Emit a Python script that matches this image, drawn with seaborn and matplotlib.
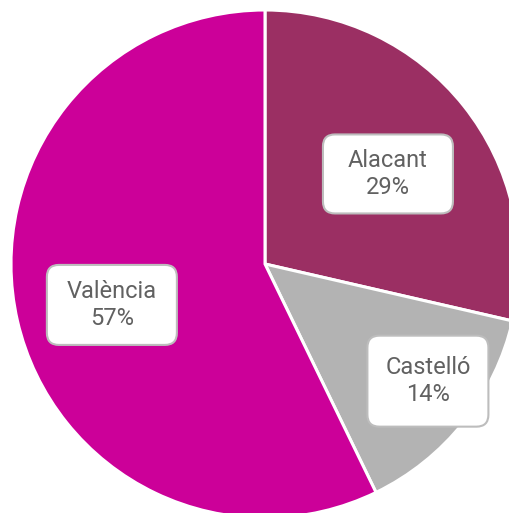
import numpy as np
import matplotlib.pyplot as plt
import seaborn as sns
from matplotlib.patches import FancyBboxPatch

# data
regions = ['Alacant', 'Castelló', 'València']
shares = [28.6, 14.2, 57.2]
colors = ['#9B2F63', '#B3B3B3', '#CC0099']

# label placement (fraction of radius, angle nudge in degrees) and box size in px
label_dist = [0.6, 0.79, 0.624]
label_nudge = [-2.3, 2.8, 2.0]
box_w = [130, 121, 130]
box_h = [79, 91, 80]

R_PX = 254.0

sns.set_theme(style='white')
plt.rcParams['font.family'] = ['Roboto', 'DejaVu Sans']

fig = plt.figure(figsize=(5.09, 5.13), dpi=100)
ax = fig.add_axes([0, 0, 1, 1])

wedges, _ = ax.pie(shares, colors=colors, startangle=90, counterclock=False,
                   radius=1, wedgeprops=dict(edgecolor='white', linewidth=2.2))

# labels inside rounded white boxes
for i, w in enumerate(wedges):
    mid = np.deg2rad((w.theta1 + w.theta2) / 2 + label_nudge[i])
    x, y = label_dist[i] * np.cos(mid), label_dist[i] * np.sin(mid)
    bw, bh = box_w[i] / R_PX, box_h[i] / R_PX
    ax.add_patch(FancyBboxPatch((x - bw / 2, y - bh / 2), bw, bh,
                                boxstyle=f'round,pad=0,rounding_size={12 / R_PX}',
                                fc='white', ec='#BDBDBD', lw=1.5, zorder=3))
    ax.text(x, y, f'{regions[i]}\n{shares[i]:.0f}%', ha='center', va='center',
            fontsize=17, color='#616161', linespacing=1.2, zorder=4)

ax.set_xlim(-265 / R_PX, 244 / R_PX)
ax.set_ylim(-249 / R_PX, 264 / R_PX)
ax.set_aspect('auto')
ax.axis('off')

fig.savefig('out.png', dpi=100)
